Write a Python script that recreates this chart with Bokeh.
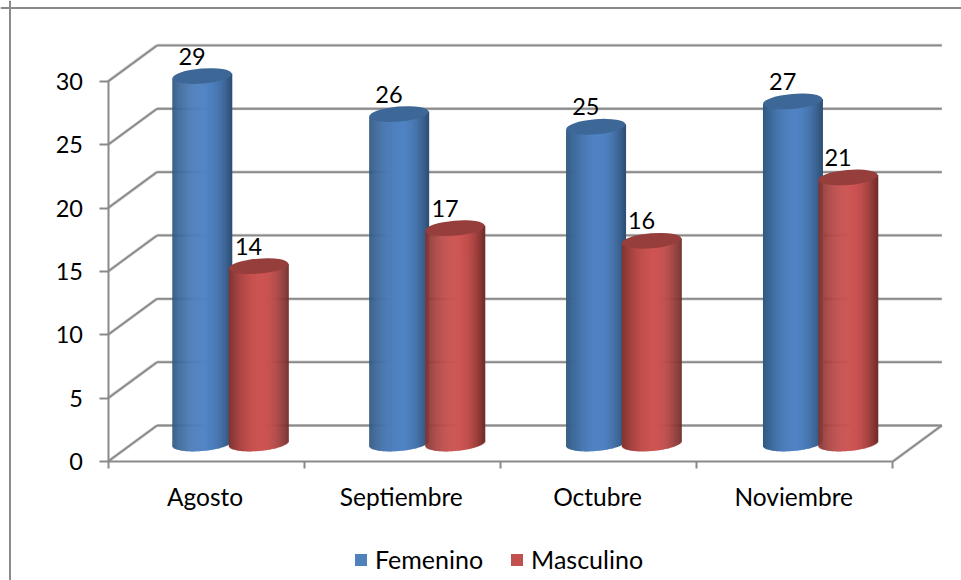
import numpy as np
from bokeh.core.properties import value
from bokeh.embed import file_html
from bokeh.models import (ColumnDataSource, FixedTicker, Legend, LegendItem,
                          LinearAxis, Range1d, Span)
from bokeh.plotting import figure
from bokeh.resources import INLINE

categories = ["Agosto", "Septiembre", "Octubre", "Noviembre"]
femenino = [29, 26, 25, 27]
masculino = [14, 17, 16, 21]
y_ticks = [0, 5, 10, 15, 20, 25, 30]

W, H = 961, 580
X0, PX_X = 107.5, 196.2      # pixel of category 0 edge, pixels per category
Y0, PX_Y = 461.0, 12.67      # pixel of value 0, pixels per value unit
DEPTH_X = 49 / PX_X
DEPTH_Y = 36 / PX_Y
GRID = "#8a8a8a"
FONT = "Lato"
FS = "24.5px"
FS_LEG = "25px"
FS_NUM = "23.5px"

p = figure(width=W, height=H, output_backend="svg", toolbar_location=None,
           x_range=Range1d(-X0 / PX_X, (W - X0) / PX_X),
           y_range=Range1d((Y0 - H) / PX_Y, Y0 / PX_Y),
           min_border=0, outline_line_color=None,
           x_axis_type=None, y_axis_type=None,
           styles={"position": "absolute", "left": "0px", "top": "0px"})
p.xgrid.visible = False
p.ygrid.visible = False

# chart frame: only top and left edges show
for dim, loc in (("width", H - 7.5), ("height", 9.5)):
    p.add_layout(Span(location=loc, dimension=dim, location_units="screen",
                      line_color=GRID, line_width=2))

# back wall and side wall
n_cat = len(categories)
xs0, ys0, xs1, ys1 = [], [], [], []
for t in y_ticks:
    xs0.append(DEPTH_X); ys0.append(t + DEPTH_Y)
    xs1.append(n_cat + DEPTH_X); ys1.append(t + DEPTH_Y)
    xs0.append(0); ys0.append(t)
    xs1.append(DEPTH_X); ys1.append(t + DEPTH_Y)
xs0.append(n_cat); ys0.append(0)
xs1.append(n_cat + DEPTH_X); ys1.append(DEPTH_Y)
p.segment(xs0, ys0, xs1, ys1, line_color="#d4d4d4", line_width=3.2)
p.segment(xs0, ys0, xs1, ys1, line_color=GRID, line_width=1.8)

# real axes, pinned on the front plane
yax = LinearAxis(ticker=FixedTicker(ticks=y_ticks), fixed_location=0, bounds=(0, 30),
                 axis_line_color=GRID, axis_line_width=2,
                 major_tick_line_color=GRID, major_tick_line_width=2,
                 major_tick_in=0, major_tick_out=9, minor_tick_line_color=None,
                 major_label_standoff=16, major_label_text_font=FONT,
                 major_label_text_font_size=FS_NUM, major_label_text_color="#000000")
p.add_layout(yax, "left")

centres = [i + 0.495 for i in range(n_cat)]
xax = LinearAxis(ticker=FixedTicker(ticks=centres, minor_ticks=list(range(n_cat + 1))),
                 fixed_location=0, bounds=(0, n_cat),
                 axis_line_color=GRID, axis_line_width=2,
                 major_tick_line_color=None, major_tick_in=0, major_tick_out=0,
                 minor_tick_line_color=GRID, minor_tick_line_width=2,
                 minor_tick_in=0, minor_tick_out=7,
                 major_label_overrides={c: n for c, n in zip(centres, categories)},
                 major_label_standoff=13, major_label_text_font=FONT,
                 major_label_text_font_size=FS, major_label_text_color="#000000")
p.add_layout(xax, "below")


def hex2rgb(h):
    return np.array([int(h[i:i + 2], 16) for i in (1, 3, 5)], dtype=float)


def cylinders(vals, offset, pitch, edge_l, mid, edge_r, top):
    width = 59.5 / PX_X
    b = 7.5 / PX_Y
    tilt = 2.5 / PX_Y
    N = 60
    l, r, bo, to, col = [], [], [], [], []
    cx = [i * pitch + offset + DEPTH_X / 2 for i in range(len(vals))]
    base = DEPTH_Y / 2
    for c, v in zip(cx, vals):
        for k in range(N):
            t = -1 + 2 * (k + 0.5) / N
            u = (t - 0.1) / (1.1 if t < 0.1 else 0.9)
            f = 1 - abs(u) ** 1.9
            e = hex2rgb(edge_l if t < 0.1 else edge_r)
            rgb = e + (hex2rgb(mid) - e) * f
            l.append(c + (t - 1 / N) * width / 2)
            r.append(c + (t + 2 / N) * width / 2)
            bo.append(base + tilt * t - b * np.sqrt(max(1 - t * t, 0)))
            to.append(base + v + tilt * t)
            col.append("#%02x%02x%02x" % tuple(int(round(x)) for x in rgb))
    p.quad(left=l, right=r, bottom=bo, top=to, fill_color=col, line_color=None)
    p.ellipse(x=cx, y=[base + v for v in vals], width=width, height=2 * b,
              angle=np.arctan(5 / 59.5), fill_color=top, line_color=None)
    return ColumnDataSource(dict(x=cx, y=[base + v for v in vals], t=[str(v) for v in vals]))


blue = cylinders(femenino, 0.3545, 1.0035, "#31587f", "#5083c3", "#2e4e73", "#3c6797")
red = cylinders(masculino, 0.6425, 1.0015, "#7f3431", "#cd5452", "#6f2c2a", "#963e3c")

for src in (blue, red):
    p.text(x="x", y="y", text="t", source=src, text_font=value(FONT),
           text_font_size=FS_NUM, text_color="#000000", text_align="center",
           text_baseline="middle", x_offset=-10, y_offset=-20)

# legend
r_f = p.quad(left=[np.nan], right=[np.nan], bottom=[np.nan], top=[np.nan],
             fill_color="#4f81bd", line_color=None)
r_m = p.quad(left=[np.nan], right=[np.nan], bottom=[np.nan], top=[np.nan],
             fill_color="#c0504d", line_color=None)
legend = Legend(items=[LegendItem(label="Femenino", renderers=[r_f]),
                       LegendItem(label="Masculino", renderers=[r_m])],
                orientation="horizontal", location=(353, 6),
                border_line_color=None, background_fill_alpha=0,
                glyph_width=15, glyph_height=15, label_standoff=7, spacing=26,
                padding=0, margin=0, label_text_font=FONT,
                label_text_font_size=FS_LEG, label_text_color="#000000")
p.add_layout(legend, "center")

open("out.html", "w").write(file_html(p, INLINE))
